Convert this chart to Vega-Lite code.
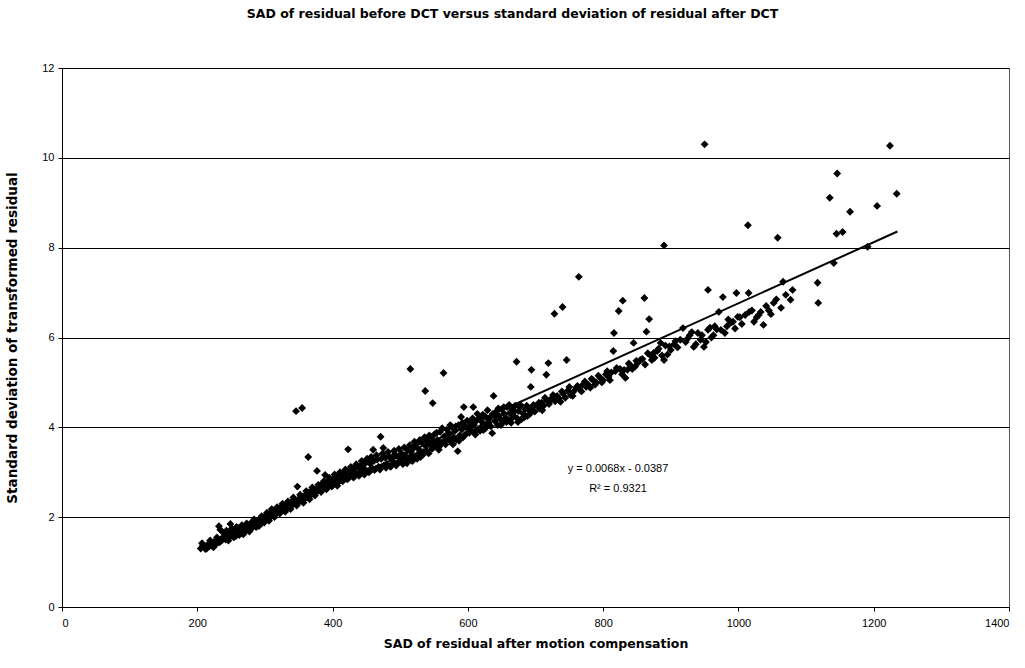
{
  "$schema": "https://vega.github.io/schema/vega-lite/v6.json",
  "width": 947,
  "height": 539,
  "autosize": {"type": "none"},
  "padding": {"left": 62, "top": 68, "right": 16, "bottom": 61},
  "background": "white",
  "config": {
    "font": "Liberation Sans",
    "view": {"stroke": "#555", "strokeWidth": 1},
    "axis": {"labelFont": "Liberation Sans", "labelFontSize": 11, "labelColor": "#000", "titleFont": "DejaVu Sans", "titleFontSize": 12.5, "titleFontWeight": "bold", "titleColor": "#000", "domainColor": "#000", "tickColor": "#000", "gridColor": "#000", "gridWidth": 1.2}
  },
  "title": {"text": "SAD of residual before DCT versus standard deviation of residual after DCT", "fontSize": 12.5, "fontWeight": "bold", "font": "DejaVu Sans", "color": "#000", "offset": 42, "dx": -23},
  "datasets": {
    "pts": [
      {"s":205,"d":1.30},{"s":208,"d":1.36},{"s":210,"d":1.33},{"s":212,"d":1.29},{"s":215,"d":1.38},{"s":218,"d":1.35},{"s":220,"d":1.42},{"s":222,"d":1.37},{"s":225,"d":1.45},{"s":228,"d":1.40},{"s":230,"d":1.50},{"s":232,"d":1.80},{"s":234,"d":1.72},{"s":236,"d":1.48},{"s":238,"d":1.55},{"s":240,"d":1.58},{"s":242,"d":1.50},{"s":245,"d":1.62},{"s":247,"d":1.55},{"s":249,"d":1.85},{"s":250,"d":1.66},{"s":252,"d":1.60},{"s":255,"d":1.70},{"s":257,"d":1.58},{"s":259,"d":1.65},{"s":261,"d":1.75},{"s":263,"d":1.68},{"s":265,"d":1.72},{"s":268,"d":1.62},{"s":270,"d":1.80},{"s":272,"d":1.70},{"s":274,"d":1.76},{"s":276,"d":1.82},{"s":278,"d":1.74},{"s":280,"d":1.88},{"s":283,"d":1.80},{"s":285,"d":1.85},{"s":287,"d":1.78},{"s":290,"d":1.92},{"s":292,"d":1.86},{"s":294,"d":1.95},{"s":296,"d":1.88},{"s":298,"d":2.00},{"s":300,"d":1.93},
      {"s":207,"d":1.42},{"s":214,"d":1.30},{"s":219,"d":1.48},{"s":224,"d":1.33},{"s":229,"d":1.55},{"s":233,"d":1.44},{"s":239,"d":1.65},{"s":243,"d":1.70},{"s":246,"d":1.48},{"s":251,"d":1.75},{"s":254,"d":1.55},{"s":258,"d":1.78},{"s":262,"d":1.60},{"s":266,"d":1.82},{"s":269,"d":1.70},{"s":273,"d":1.86},{"s":277,"d":1.68},{"s":281,"d":1.76},{"s":284,"d":1.95},{"s":288,"d":1.85},{"s":291,"d":1.80},{"s":295,"d":2.02},{"s":299,"d":1.88},
      {"s":302,"d":2.02},{"s":305,"d":1.96},{"s":307,"d":2.08},{"s":309,"d":2.03},{"s":311,"d":2.10},{"s":313,"d":2.05},{"s":315,"d":2.15},{"s":317,"d":2.08},{"s":319,"d":2.12},{"s":321,"d":2.20},{"s":323,"d":2.14},{"s":325,"d":2.22},{"s":327,"d":2.16},{"s":329,"d":2.25},{"s":331,"d":2.19},{"s":333,"d":2.28},{"s":335,"d":2.22},{"s":337,"d":2.32},{"s":339,"d":2.25},{"s":341,"d":2.36},{"s":343,"d":2.30},{"s":345,"d":2.38},{"s":346,"d":4.36},{"s":348,"d":2.68},{"s":349,"d":2.33},{"s":351,"d":2.42},{"s":353,"d":2.36},{"s":355,"d":4.43},{"s":356,"d":2.45},{"s":358,"d":2.40},{"s":360,"d":2.50},{"s":362,"d":2.44},{"s":364,"d":3.34},{"s":365,"d":2.55},{"s":367,"d":2.48},{"s":369,"d":2.58},{"s":371,"d":2.52},{"s":373,"d":2.62},{"s":375,"d":2.55},{"s":377,"d":3.03},{"s":378,"d":2.65},{"s":380,"d":2.60},{"s":382,"d":2.70},{"s":384,"d":2.64},{"s":386,"d":2.74},{"s":389,"d":2.94},{"s":390,"d":2.70},{"s":392,"d":2.78},{"s":394,"d":2.72},{"s":396,"d":2.82},{"s":398,"d":2.76},{"s":400,"d":2.85},
      {"s":303,"d":2.10},{"s":306,"d":1.92},{"s":310,"d":2.18},{"s":314,"d":2.00},{"s":318,"d":2.22},{"s":322,"d":2.08},{"s":326,"d":2.30},{"s":330,"d":2.12},{"s":334,"d":2.35},{"s":338,"d":2.18},{"s":342,"d":2.44},{"s":347,"d":2.26},{"s":352,"d":2.50},{"s":357,"d":2.32},{"s":361,"d":2.58},{"s":366,"d":2.40},{"s":370,"d":2.66},{"s":374,"d":2.48},{"s":379,"d":2.72},{"s":383,"d":2.56},{"s":387,"d":2.80},{"s":391,"d":2.62},{"s":395,"d":2.88},{"s":399,"d":2.68},
      {"s":402,"d":2.80},{"s":404,"d":2.88},{"s":406,"d":2.76},{"s":408,"d":2.92},{"s":410,"d":2.84},{"s":412,"d":2.96},{"s":414,"d":2.86},{"s":416,"d":2.98},{"s":418,"d":2.90},{"s":420,"d":3.02},{"s":423,"d":3.51},{"s":424,"d":2.92},{"s":426,"d":3.05},{"s":428,"d":2.95},{"s":430,"d":3.08},{"s":432,"d":2.98},{"s":434,"d":3.10},{"s":436,"d":2.96},{"s":438,"d":3.12},{"s":440,"d":3.00},{"s":442,"d":3.15},{"s":444,"d":3.04},{"s":446,"d":3.18},{"s":448,"d":3.06},{"s":450,"d":3.22},{"s":452,"d":3.02},{"s":455,"d":3.20},{"s":458,"d":3.10},{"s":460,"d":3.50},{"s":461,"d":3.25},{"s":464,"d":3.08},{"s":466,"d":3.28},{"s":468,"d":3.12},{"s":471,"d":3.79},{"s":472,"d":3.30},{"s":475,"d":3.54},{"s":476,"d":3.15},{"s":478,"d":3.32},{"s":480,"d":3.18},{"s":483,"d":3.36},{"s":485,"d":3.14},{"s":488,"d":3.30},{"s":490,"d":3.22},{"s":492,"d":3.40},{"s":495,"d":3.20},{"s":497,"d":3.35},{"s":500,"d":3.25},
      {"s":403,"d":2.95},{"s":407,"d":2.70},{"s":411,"d":3.00},{"s":415,"d":2.80},{"s":419,"d":3.06},{"s":422,"d":2.84},{"s":427,"d":3.12},{"s":431,"d":2.88},{"s":435,"d":3.18},{"s":439,"d":2.92},{"s":443,"d":3.25},{"s":447,"d":2.95},{"s":451,"d":3.30},{"s":454,"d":3.00},{"s":457,"d":3.34},{"s":462,"d":3.05},{"s":465,"d":3.38},{"s":470,"d":3.06},{"s":474,"d":3.42},{"s":479,"d":3.10},{"s":482,"d":3.45},{"s":486,"d":3.12},{"s":491,"d":3.48},{"s":494,"d":3.15},{"s":498,"d":3.52},
      {"s":502,"d":3.42},{"s":504,"d":3.18},{"s":507,"d":3.38},{"s":509,"d":3.28},{"s":511,"d":3.50},{"s":513,"d":3.30},{"s":515,"d":5.30},{"s":516,"d":3.45},{"s":518,"d":3.25},{"s":520,"d":3.55},{"s":522,"d":3.35},{"s":524,"d":3.62},{"s":526,"d":3.40},{"s":528,"d":3.50},{"s":530,"d":3.34},{"s":532,"d":3.66},{"s":534,"d":3.45},{"s":537,"d":4.81},{"s":538,"d":3.58},{"s":540,"d":3.70},{"s":542,"d":3.42},{"s":544,"d":3.62},{"s":546,"d":3.78},{"s":548,"d":4.54},{"s":549,"d":3.55},{"s":551,"d":3.85},{"s":553,"d":3.60},{"s":555,"d":3.72},{"s":557,"d":3.50},{"s":559,"d":3.90},{"s":561,"d":3.66},{"s":564,"d":5.21},{"s":565,"d":3.80},{"s":567,"d":3.62},{"s":569,"d":3.95},{"s":571,"d":3.74},{"s":573,"d":3.86},{"s":575,"d":3.68},{"s":577,"d":4.00},{"s":579,"d":3.78},{"s":581,"d":3.92},{"s":583,"d":3.72},{"s":585,"d":3.47},{"s":586,"d":4.05},{"s":588,"d":3.82},{"s":590,"d":4.23},{"s":591,"d":3.95},{"s":593,"d":3.78},{"s":594,"d":4.45},{"s":596,"d":4.02},{"s":598,"d":3.86},{"s":600,"d":3.98},
      {"s":503,"d":3.30},{"s":506,"d":3.55},{"s":510,"d":3.20},{"s":514,"d":3.60},{"s":517,"d":3.38},{"s":521,"d":3.68},{"s":525,"d":3.30},{"s":529,"d":3.72},{"s":533,"d":3.38},{"s":536,"d":3.78},{"s":539,"d":3.48},{"s":543,"d":3.82},{"s":547,"d":3.52},{"s":550,"d":3.68},{"s":554,"d":3.88},{"s":558,"d":3.58},{"s":562,"d":3.98},{"s":566,"d":3.70},{"s":570,"d":3.85},{"s":574,"d":4.05},{"s":578,"d":3.62},{"s":582,"d":4.02},{"s":587,"d":3.70},{"s":592,"d":4.10},{"s":595,"d":3.82},{"s":599,"d":4.15},
      {"s":602,"d":3.88},{"s":604,"d":4.10},{"s":606,"d":3.92},{"s":608,"d":4.45},{"s":609,"d":4.05},{"s":611,"d":3.84},{"s":613,"d":4.15},{"s":615,"d":3.96},{"s":617,"d":4.20},{"s":619,"d":4.00},{"s":621,"d":4.12},{"s":623,"d":3.94},{"s":625,"d":4.25},{"s":627,"d":4.06},{"s":629,"d":4.38},{"s":631,"d":4.10},{"s":633,"d":4.22},{"s":636,"d":3.87},{"s":637,"d":4.30},{"s":638,"d":4.70},{"s":640,"d":4.14},{"s":642,"d":4.35},{"s":644,"d":4.05},{"s":646,"d":4.26},{"s":648,"d":4.18},{"s":650,"d":4.40},{"s":652,"d":4.12},{"s":654,"d":4.30},{"s":656,"d":4.22},{"s":658,"d":4.45},{"s":660,"d":4.15},{"s":662,"d":4.32},{"s":664,"d":4.10},{"s":666,"d":4.40},{"s":668,"d":4.25},{"s":670,"d":4.48},{"s":672,"d":5.46},{"s":673,"d":4.20},{"s":675,"d":4.36},{"s":677,"d":4.45},{"s":679,"d":4.18},{"s":682,"d":4.30},{"s":685,"d":4.40},{"s":688,"d":4.25},{"s":691,"d":4.38},{"s":693,"d":4.90},{"s":694,"d":5.28},{"s":696,"d":4.45},{"s":699,"d":4.35},{"s":703,"d":4.50},
      {"s":603,"d":4.00},{"s":607,"d":4.20},{"s":610,"d":3.90},{"s":614,"d":4.30},{"s":618,"d":3.92},{"s":622,"d":4.28},{"s":626,"d":3.98},{"s":630,"d":4.18},{"s":634,"d":4.02},{"s":641,"d":4.25},{"s":645,"d":4.42},{"s":649,"d":4.05},{"s":653,"d":4.45},{"s":657,"d":4.12},{"s":661,"d":4.50},{"s":665,"d":4.20},{"s":669,"d":4.35},{"s":674,"d":4.12},{"s":678,"d":4.50},{"s":683,"d":4.22},{"s":687,"d":4.48},{"s":692,"d":4.30},{"s":697,"d":4.50},
      {"s":706,"d":4.42},{"s":709,"d":4.55},{"s":712,"d":4.48},{"s":716,"d":5.17},{"s":717,"d":4.60},{"s":719,"d":5.43},{"s":720,"d":4.52},{"s":724,"d":4.65},{"s":728,"d":6.53},{"s":729,"d":4.58},{"s":732,"d":4.70},{"s":737,"d":4.57},{"s":740,"d":6.68},{"s":741,"d":4.75},{"s":744,"d":4.66},{"s":746,"d":5.50},{"s":748,"d":4.82},{"s":752,"d":4.72},{"s":756,"d":4.79},{"s":760,"d":4.88},{"s":764,"d":7.35},{"s":765,"d":4.85},{"s":770,"d":4.95},{"s":775,"d":4.90},{"s":781,"d":4.88},{"s":785,"d":5.05},{"s":790,"d":5.00},{"s":796,"d":5.10},{"s":800,"d":5.05},
      {"s":705,"d":4.55},{"s":710,"d":4.38},{"s":714,"d":4.66},{"s":722,"d":4.60},{"s":726,"d":4.72},{"s":735,"d":4.64},{"s":739,"d":4.80},{"s":750,"d":4.90},{"s":755,"d":4.70},{"s":762,"d":4.92},{"s":768,"d":4.80},{"s":773,"d":5.02},{"s":778,"d":4.95},{"s":783,"d":5.08},{"s":788,"d":4.95},{"s":793,"d":5.15},{"s":798,"d":5.00},
      {"s":804,"d":5.18},{"s":808,"d":5.12},{"s":812,"d":5.22},{"s":815,"d":5.70},{"s":816,"d":6.10},{"s":818,"d":5.25},{"s":823,"d":6.59},{"s":825,"d":5.30},{"s":829,"d":6.82},{"s":831,"d":5.28},{"s":833,"d":5.10},{"s":836,"d":5.28},{"s":840,"d":5.38},{"s":845,"d":5.88},{"s":847,"d":5.35},{"s":851,"d":5.43},{"s":855,"d":5.50},{"s":861,"d":6.88},{"s":864,"d":6.13},{"s":868,"d":6.41},{"s":870,"d":5.60},{"s":875,"d":5.66},{"s":876,"d":5.55},{"s":880,"d":5.70},{"s":885,"d":5.88},{"s":890,"d":5.50},{"s":890,"d":8.05},{"s":895,"d":5.62},{"s":900,"d":5.72},
      {"s":806,"d":5.25},{"s":810,"d":5.05},{"s":820,"d":5.32},{"s":828,"d":5.18},{"s":838,"d":5.42},{"s":843,"d":5.30},{"s":849,"d":5.48},{"s":858,"d":5.52},{"s":862,"d":5.40},{"s":866,"d":5.65},{"s":872,"d":5.50},{"s":882,"d":5.75},{"s":887,"d":5.60},{"s":892,"d":5.82},{"s":898,"d":5.80},
      {"s":905,"d":5.85},{"s":910,"d":5.78},{"s":918,"d":6.21},{"s":922,"d":5.90},{"s":928,"d":6.05},{"s":934,"d":5.79},{"s":940,"d":6.10},{"s":944,"d":5.95},{"s":949,"d":5.79},{"s":950,"d":10.30},{"s":955,"d":6.17},{"s":955,"d":7.06},{"s":960,"d":6.00},{"s":965,"d":6.25},{"s":971,"d":6.57},{"s":974,"d":6.17},{"s":977,"d":6.90},{"s":980,"d":6.10},{"s":985,"d":6.40},{"s":989,"d":6.33},{"s":995,"d":6.20},{"s":997,"d":6.99},{"s":999,"d":6.46},
      {"s":907,"d":5.92},{"s":914,"d":5.95},{"s":925,"d":5.98},{"s":931,"d":6.12},{"s":937,"d":5.85},{"s":946,"d":6.05},{"s":952,"d":5.90},{"s":958,"d":6.22},{"s":963,"d":6.05},{"s":968,"d":6.18},{"s":983,"d":6.25},{"s":992,"d":6.35},{"s":1002,"d":6.45},
      {"s":1005,"d":6.30},{"s":1014,"d":8.50},{"s":1015,"d":6.99},{"s":1016,"d":6.57},{"s":1023,"d":6.35},{"s":1030,"d":6.50},{"s":1033,"d":6.57},{"s":1037,"d":6.28},{"s":1045,"d":6.60},{"s":1052,"d":6.77},{"s":1058,"d":8.22},{"s":1063,"d":6.66},{"s":1066,"d":7.24},{"s":1077,"d":6.84},{"s":1080,"d":7.06},{"s":1117,"d":7.22},{"s":1118,"d":6.77},{"s":1135,"d":9.11},{"s":1141,"d":7.66},{"s":1145,"d":8.31},{"s":1146,"d":9.65},{"s":1154,"d":8.35},{"s":1165,"d":8.80},{"s":1191,"d":8.02},{"s":1205,"d":8.93},{"s":1224,"d":10.27},{"s":1234,"d":9.20},
      {"s":1010,"d":6.50},{"s":1020,"d":6.60},{"s":1027,"d":6.45},{"s":1041,"d":6.70},{"s":1048,"d":6.52},{"s":1056,"d":6.85},{"s":1070,"d":6.95}
    ],
    "trend": [
      {"s":205,"d":1.355},
      {"s":1235,"d":8.36}
    ],
    "notes": [
      {"s":822,"d":3.08,"t":"y = 0.0068x - 0.0387"},
      {"s":822,"d":2.62,"t":"R² = 0.9321"}
    ]
  },
  "layer": [
    {
      "data": {"name": "pts"},
      "mark": {"type": "point", "shape": "diamond", "filled": true, "color": "#000", "opacity": 1, "size": 62},
      "encoding": {
        "x": {"field": "s", "type": "quantitative", "scale": {"domain": [0, 1400], "nice": false}, "axis": {"values": [0,200,400,600,800,1000,1200,1400], "format": "d", "grid": false, "title": "SAD of residual after motion compensation", "titlePadding": 9, "labelPadding": 6, "tickSize": 4}},
        "y": {"field": "d", "type": "quantitative", "scale": {"domain": [0, 12], "nice": false}, "axis": {"values": [0,2,4,6,8,10,12], "format": "d", "grid": true, "title": "Standard deviation of transformed residual", "titleFontSize": 13.5, "titlePadding": 22, "labelPadding": 4, "tickSize": 4}}
      }
    },
    {
      "data": {"name": "trend"},
      "mark": {"type": "line", "color": "#000", "strokeWidth": 2},
      "encoding": {
        "x": {"field": "s", "type": "quantitative"},
        "y": {"field": "d", "type": "quantitative"}
      }
    },
    {
      "data": {"name": "notes"},
      "mark": {"type": "text", "font": "Liberation Sans", "fontSize": 11, "color": "#000", "align": "center", "baseline": "middle"},
      "encoding": {
        "x": {"field": "s", "type": "quantitative"},
        "y": {"field": "d", "type": "quantitative"},
        "text": {"field": "t"}
      }
    }
  ]
}
